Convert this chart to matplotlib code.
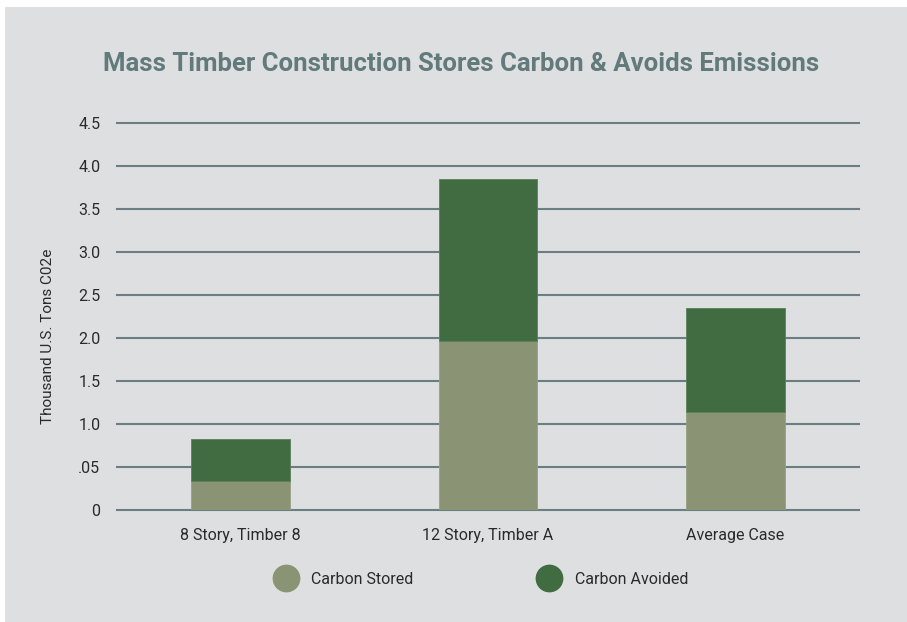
import matplotlib
matplotlib.use("Agg")
import matplotlib.pyplot as plt
from matplotlib.lines import Line2D
from matplotlib.patches import Rectangle
from matplotlib import font_manager

# data
categories = ["8 Story, Timber 8", "12 Story, Timber A", "Average Case"]
carbon_stored = [0.34, 1.96, 1.14]
carbon_avoided = [0.49, 1.89, 1.21]
ytick_vals = [0, 0.5, 1.0, 1.5, 2.0, 2.5, 3.0, 3.5, 4.0, 4.5]
ytick_labels = ["0", ".05", "1.0", "1.5", "2.0", "2.5", "3.0", "3.5", "4.0", "4.5"]

BG = "#dedfe1"
STORED = "#8a9475"
AVOIDED = "#416b41"
GRID = "#6b7f82"
TITLE = "#627a7c"
TXT = "#2a2a2a"

names = {f.name for f in font_manager.fontManager.ttflist}
FONT = ["Liberation Sans Narrow"] if "Liberation Sans Narrow" in names else ["Roboto"]
plt.rcParams["font.family"] = FONT + ["DejaVu Sans"]

fig = plt.figure(figsize=(9.07, 6.22), dpi=100, facecolor="white")
fig.patches.append(Rectangle((5 / 907, 0), 1, 1 - 7 / 622, transform=fig.transFigure,
                             facecolor=BG, edgecolor="none", zorder=-10))

ax = fig.add_axes([117 / 907, 1 - 510 / 622, (859 - 117) / 907, (510 - 123) / 622])
ax.set_facecolor(BG)
ax.patch.set_alpha(0)

x = range(len(categories))
ax.bar(x, carbon_stored, width=0.4, color=STORED, edgecolor="#95a083", linewidth=0.6, zorder=3)
ax.bar(x, carbon_avoided, bottom=carbon_stored, width=0.4, color=AVOIDED,
       edgecolor="#5a7f5a", linewidth=0.6, zorder=3)

ax.set_xlim(-0.5, 2.5)
ax.set_ylim(0, 4.5)
ax.set_yticks(ytick_vals)
ax.set_yticklabels(ytick_labels)
ax.set_xticks(list(x))
ax.set_xticklabels(categories)
for v in ytick_vals:
    ax.axhline(v, color=GRID, linewidth=1.5, zorder=1, clip_on=False)
for sp in ax.spines.values():
    sp.set_visible(False)
ax.tick_params(axis="both", length=0, labelsize=11.5, colors=TXT)
ax.tick_params(axis="y", pad=12)
ax.tick_params(axis="x", pad=13)
ax.set_ylabel("Thousand U.S. Tons C02e", fontsize=11, color=TXT)
ax.yaxis.set_label_coords(-0.084, 0.45)

fig.text(461 / 907, 1 - 64 / 622, "Mass Timber Construction Stores Carbon & Avoids Emissions",
         ha="center", va="center", fontsize=18.5, fontweight="bold", color=TITLE)

handles = [Line2D([], [], marker="o", linestyle="none", markersize=20,
                  markerfacecolor=STORED, markeredgecolor="none", label="Carbon Stored"),
           Line2D([], [], marker="o", linestyle="none", markersize=20,
                  markerfacecolor=AVOIDED, markeredgecolor="none", label="Carbon Avoided")]
fig.legend(handles=handles, loc="center", bbox_to_anchor=(479 / 907, 1 - 579 / 622),
           ncol=2, frameon=False, fontsize=11.5, columnspacing=7.5, handletextpad=0.6,
           labelcolor=TXT)

fig.savefig("out.png", dpi=100, facecolor="white")
